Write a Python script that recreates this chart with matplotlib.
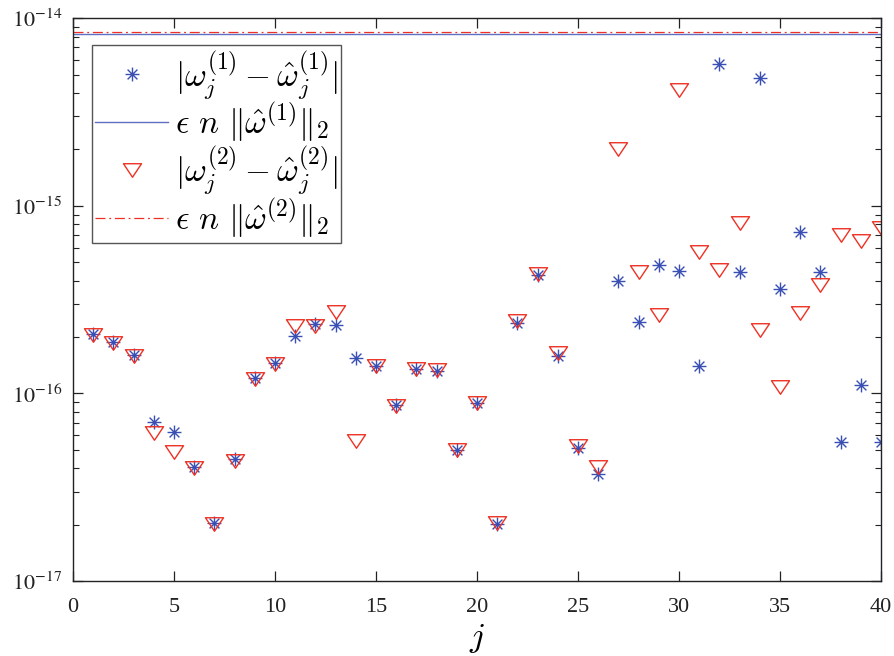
import numpy as np
import matplotlib
matplotlib.use('Agg')
import matplotlib.pyplot as plt
from matplotlib.path import Path
from matplotlib.font_manager import FontProperties
from matplotlib.ticker import LogLocator, FixedLocator

# values
j = np.arange(1, 41)
err1 = [2.07e-16, 1.88e-16, 1.60e-16, 7.07e-17, 6.20e-17, 4.04e-17, 2.03e-17, 4.46e-17,
        1.21e-16, 1.46e-16, 2.02e-16, 2.34e-16, 2.31e-16, 1.55e-16, 1.40e-16, 8.63e-17,
        1.35e-16, 1.32e-16, 4.99e-17, 8.85e-17, 2.02e-17, 2.38e-16, 4.26e-16, 1.59e-16,
        5.09e-17, 3.70e-17, 3.99e-16, 2.41e-16, 4.86e-16, 4.52e-16, 1.40e-16, 5.71e-15,
        4.46e-16, 4.81e-15, 3.61e-16, 7.22e-16, 4.46e-16, 5.51e-17, 1.11e-16, 5.51e-17]
err2 = [2.04e-16, 1.86e-16, 1.58e-16, 6.13e-17, 4.87e-17, 3.99e-17, 2.02e-17, 4.37e-17,
        1.20e-16, 1.44e-16, 2.28e-16, 2.29e-16, 2.72e-16, 5.60e-17, 1.40e-16, 8.60e-17,
        1.35e-16, 1.33e-16, 4.99e-17, 8.90e-17, 2.04e-17, 2.42e-16, 4.36e-16, 1.64e-16,
        5.25e-17, 4.06e-17, 2.01e-15, 4.42e-16, 2.61e-16, 4.16e-15, 5.67e-16, 4.57e-16,
        8.15e-16, 2.17e-16, 1.08e-16, 2.70e-16, 3.79e-16, 7.03e-16, 6.50e-16, 7.60e-16]
bound1 = 8.22e-15
bound2 = 8.5e-15

labels = [r'$|\omega_j^{(1)} - \hat{\omega}_j^{(1)}|$',
          r'$\epsilon\ n\ \|\hat{\omega}^{(1)}\|_2$',
          r'$|\omega_j^{(2)} - \hat{\omega}_j^{(2)}|$',
          r'$\epsilon\ n\ \|\hat{\omega}^{(2)}\|_2$']

blue = '#3a4fb4'
red = '#ee3124'

plt.rcParams['font.family'] = ['Liberation Serif', 'DejaVu Serif']
plt.rcParams['mathtext.fontset'] = 'stix'

# matlab style asterisk and a flat down triangle
c = 0.7071
star = Path([(-1, 0), (1, 0), (0, -1), (0, 1), (-c, -c), (c, c), (-c, c), (c, -c)],
            [Path.MOVETO, Path.LINETO] * 4)
tri = Path([(-1, 0.75), (1, 0.75), (0, -0.75), (-1, 0.75)],
           [Path.MOVETO, Path.LINETO, Path.LINETO, Path.CLOSEPOLY])

fig = plt.figure(figsize=(8.95, 6.56), dpi=100)
ax = fig.add_axes([0.0816, 0.1143, 0.9028, 0.8577])

ax.plot(j, err1, linestyle='none', marker=star, markersize=10, markeredgewidth=1.0,
        markerfacecolor='none', markeredgecolor=blue, label=labels[0])
ax.axhline(bound1, color='#5f70c4', linewidth=1.0, label=labels[1])
ax.plot(j, err2, linestyle='none', marker=tri, markersize=13, markeredgewidth=1.0,
        markerfacecolor='none', markeredgecolor=red, label=labels[2])
ax.axhline(bound2, color=red, linewidth=0.9, dashes=(8, 3, 1.5, 3), label=labels[3])

ax.set_yscale('log')
ax.set_xlim(0, 40)
ax.set_ylim(1e-17, 1e-14)
ax.xaxis.set_major_locator(FixedLocator(np.arange(0, 41, 5)))
ax.yaxis.set_major_locator(LogLocator(base=10, numticks=10))
ax.yaxis.set_minor_locator(LogLocator(base=10, subs=np.arange(2, 10), numticks=20))
ax.yaxis.set_major_formatter(plt.FuncFormatter(
    lambda v, p: r'$10^{%d}$' % int(round(np.log10(v)))))

ax.tick_params(which='both', direction='in', top=True, right=True,
               labelsize=16, colors='#222222')
ax.tick_params(axis='x', which='major', pad=12)
ax.tick_params(axis='y', which='major', pad=8)
ax.tick_params(which='major', length=7, width=0.9)
ax.tick_params(which='minor', length=4, width=0.8)
for s in ax.spines.values():
    s.set_color('#222222')
    s.set_linewidth(1.0)

ax.set_xlabel(r'$j$', fontsize=25, math_fontfamily='cm', labelpad=4)

leg = ax.legend(loc='upper left', bbox_to_anchor=(0.023, 0.952),
                prop=FontProperties(size=24, math_fontfamily='cm'),
                fancybox=False, framealpha=1, edgecolor='#555555',
                handlelength=2.2, handletextpad=0.2, borderpad=0.1,
                labelspacing=0.0, borderaxespad=0)
leg.get_frame().set_linewidth(1.0)

fig.savefig('out.png', dpi=100)
